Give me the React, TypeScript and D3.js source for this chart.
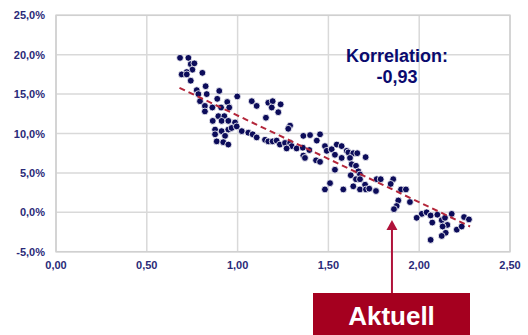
import React from "react";
import * as d3 from "d3";

const xTicks = [0, 0.5, 1.0, 1.5, 2.0, 2.5];
const yTicks = [-5, 0, 5, 10, 15, 20, 25];

const pointX = [
  0.683, 0.729, 0.742, 0.762, 0.751, 0.720, 0.692, 0.720, 0.806, 0.742,
  0.824, 0.775, 0.784, 0.830, 0.899, 0.998, 0.793, 0.888, 0.943, 1.078,
  1.105, 0.820, 0.861, 0.909, 0.954, 0.820, 0.894, 0.927, 0.863, 0.912,
  0.949, 0.986, 1.023, 1.059, 1.083, 1.105, 0.876, 0.912, 0.949, 0.967,
  0.876, 0.931, 0.885, 0.921, 0.949, 0.995, 1.169, 1.193, 1.188, 1.237,
  1.224, 1.156, 1.289, 1.279, 1.151, 1.169, 1.193, 1.215, 1.233, 1.261,
  1.289, 1.298, 1.270, 1.325, 1.359, 1.395, 1.362, 1.399, 1.454, 1.436,
  1.362, 1.371, 1.432, 1.454, 1.481, 1.491, 1.518, 1.546, 1.573, 1.601,
  1.536, 1.573, 1.536, 1.509, 1.481, 1.582, 1.610, 1.637, 1.659, 1.619,
  1.705, 1.628, 1.652, 1.665, 1.674, 1.623, 1.652, 1.674, 1.766, 1.788,
  1.857, 1.843, 1.637, 1.674, 1.702, 1.707, 1.725, 1.762, 1.900, 1.927,
  1.885, 1.876, 1.861, 1.949, 2.014, 2.041, 1.986, 2.063, 2.072, 2.100,
  2.124, 2.142, 2.155, 2.179, 2.207, 2.234, 2.247, 2.274, 2.146, 2.124,
  2.063, 2.129,
];
const pointY = [
  19.6, 19.6, 18.8, 18.9, 18.1, 17.8, 17.5, 17.5, 17.7, 16.7,
  16.0, 15.5, 15.0, 15.0, 15.4, 14.7, 14.1, 14.4, 14.0, 14.1,
  13.5, 13.5, 13.3, 13.3, 13.3, 12.8, 12.2, 12.2, 11.6, 11.6,
  11.6, 11.4, 10.3, 10.1, 9.9, 9.5, 10.5, 10.3, 10.5, 10.7,
  9.9, 9.7, 9.0, 8.9, 8.6, 10.9, 13.9, 14.1, 13.3, 13.7,
  12.7, 12.0, 11.0, 10.6, 9.2, 9.0, 9.0, 9.1, 8.6, 8.8,
  8.8, 8.4, 8.1, 8.1, 8.2, 7.9, 9.7, 9.8, 9.9, 9.1,
  7.2, 6.9, 6.6, 6.4, 8.4, 7.8, 8.0, 8.6, 8.4, 7.8,
  7.3, 6.9, 5.4, 3.7, 2.9, 2.9, 7.6, 7.5, 7.5, 6.9,
  7.0, 6.1, 5.9, 5.2, 4.8, 4.7, 4.2, 4.2, 4.2, 4.2,
  4.2, 3.6, 3.3, 2.9, 3.5, 2.9, 3.0, 2.7, 2.9, 2.9,
  1.5, 0.8, 0.4, 1.3, -0.2, 0.0, -0.7, -0.4, -1.3, -0.3,
  -1.0, -0.7, -1.6, -0.2, -2.2, -1.8, -0.6, -0.9, -2.6, -3.0,
  -3.5, -1.8,
];
const trendX = [0.68, 2.28];
const trendY = [15.8, -1.8];
const correlationLabel = ["Korrelation:", "-0,93"];
const markerX = 1.85;
const markerLabel = "Aktuell";

const fmtX = (v: number) => v.toFixed(2).replace(".", ",");
const fmtY = (v: number) => v.toFixed(1).replace(".", ",") + "%";

export default function App() {
  const W = 528, H = 335;
  const left = 56, right = 510, top = 15.3, bottom = 251.7;
  const x = d3.scaleLinear().domain([0, 2.5]).range([left, right]);
  const y = d3.scaleLinear().domain([-5, 25]).range([bottom, top]);
  const font = "'Liberation Sans', Arial, sans-serif";
  const axisColor = "#2a2a78";
  const grid = "#d9d9d9";
  const trend = d3.line<[number, number]>().x((d) => x(d[0])).y((d) => y(d[1]));
  const trendPts: [number, number][] = trendX.map((v, i) => [v, trendY[i]]);
  const mx = x(markerX);
  const boxX0 = 313, boxX1 = 470, boxY = 293;
  return (
    <div style={{ position: "absolute", left: 0, top: 0 }}>
      <svg width={W} height={H} style={{ display: "block", fontFamily: font }}>
        <rect x={0} y={0} width={W} height={H} fill="#ffffff" />
        {xTicks.map((t) => (
          <line key={"gx" + t} x1={x(t)} x2={x(t)} y1={top} y2={bottom} stroke={grid} strokeWidth={1.5} />
        ))}
        {yTicks.map((t) => (
          <line key={"gy" + t} x1={left} x2={right} y1={y(t)} y2={y(t)} stroke={grid} strokeWidth={1.5} />
        ))}
        <rect x={left} y={top} width={right - left} height={bottom - top} fill="none" stroke="#d0d0d0" strokeWidth={1.5} />
        {yTicks.map((t) => (
          <text key={"ly" + t} x={45} y={y(t)} dy="0.38em" textAnchor="end" fontSize={11} fontWeight="bold" fill={axisColor}>
            {fmtY(t)}
          </text>
        ))}
        {xTicks.map((t) => (
          <text key={"lx" + t} x={x(t)} y={269} textAnchor="middle" fontSize={11} fontWeight="bold" fill={axisColor}>
            {fmtX(t)}
          </text>
        ))}
        {pointX.map((v, i) => (
          <circle key={"p" + i} cx={x(v)} cy={y(pointY[i])} r={3.4} fill="#0c0c5a" stroke="#ffffff" strokeWidth={0.8} />
        ))}
        <path d={trend(trendPts) || ""} fill="none" stroke="#b3263a" strokeWidth={2} strokeDasharray="6,4" />
        <text x={397} y={62} textAnchor="middle" fontSize={18} fontWeight="bold" fill="#0a0a6e">
          {correlationLabel[0]}
        </text>
        <text x={397} y={83} textAnchor="middle" fontSize={18} fontWeight="bold" fill="#0a0a6e">
          {correlationLabel[1]}
        </text>
        <line x1={mx} x2={mx} y1={boxY} y2={229} stroke="#b0123a" strokeWidth={2} />
        <path d={`M${mx},220 L${mx - 5.5},230 L${mx + 5.5},230 Z`} fill="#b0123a" />
        <rect x={boxX0} y={boxY} width={boxX1 - boxX0} height={H - boxY} fill="#a5001f" />
        <text x={(boxX0 + boxX1) / 2} y={325} textAnchor="middle" fontSize={26} fontWeight="bold" fill="#ffffff">
          {markerLabel}
        </text>
      </svg>
    </div>
  );
}
